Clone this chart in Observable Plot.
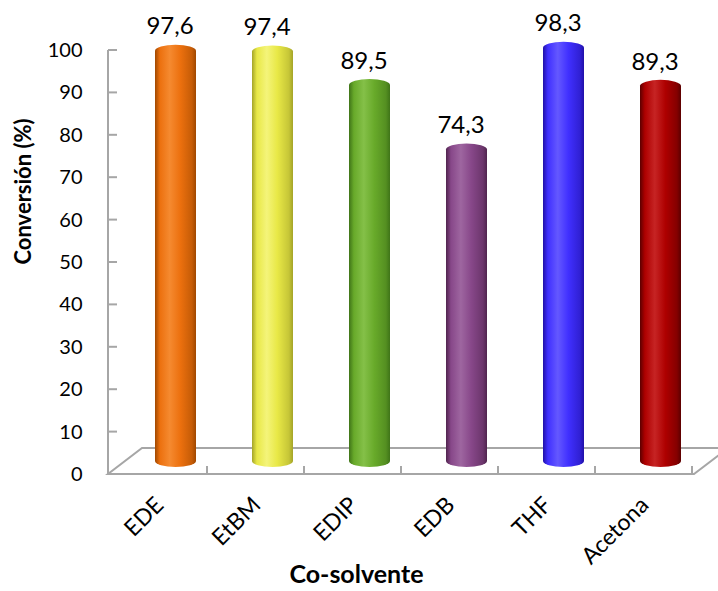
<!DOCTYPE html>
<html>
<head>
<meta charset="utf-8">
<script src="https://cdn.jsdelivr.net/npm/d3@7"></script>
<script src="https://cdn.jsdelivr.net/npm/@observablehq/plot@0.6"></script>
<style>
html, body { margin: 0; padding: 0; background: #fff; }
#chart svg { display: block; }
</style>
</head>
<body>
<div id="chart"></div>
<script>
// ---- data ----
const categories = ["EDE", "EtBM", "EDIP", "EDB", "THF", "Acetona"];
const conversion = [97.6, 97.4, 89.5, 74.3, 98.3, 89.3];
const valueLabels = ["97,6", "97,4", "89,5", "74,3", "98,3", "89,3"];
const yTicks = [0, 10, 20, 30, 40, 50, 60, 70, 80, 90, 100];
const xTitle = "Co-solvente";
const yTitle = "Conversión (%)";

// ---- styles (edge, base, light) per bar ----
const palette = [
  ["#a04800", "#ec700e", "#f58a30"],
  ["#a4a428", "#e8e846", "#f4f47a"],
  ["#3f7418", "#68aa2a", "#84c048"],
  ["#50244e", "#874789", "#9e66a0"],
  ["#2010a8", "#4030ff", "#6458ff"],
  ["#5c0000", "#ae0000", "#c62424"]
];

const data = categories.map((c, i) => ({cat: c, value: conversion[i], label: valueLabels[i], i}));

const depthX = 34, depthY = -26;
const gray = "#a6a6a6";

function chrome(index, scales, values, dimensions) {
  const {x, y} = scales;
  const {width, marginLeft, marginRight} = dimensions;
  const left = marginLeft, right = width - marginRight, y0 = y(0);
  const bw = x.bandwidth ? x.bandwidth() : (right - left) / categories.length;
  const g = d3.create("svg:g");
  const defs = g.append("defs");
  palette.forEach(([edge, base, light], i) => {
    const lg = defs.append("linearGradient").attr("id", "cyl" + i)
      .attr("x1", 0).attr("x2", 1).attr("y1", 0).attr("y2", 0);
    [[0, edge], [0.12, base], [0.36, light], [0.62, base], [0.9, d3.interpolateRgb(base, edge)(0.5)], [1, edge]]
      .forEach(([o, c]) => lg.append("stop").attr("offset", o).attr("stop-color", c));
  });
  const s = g.append("g").attr("fill", "none").attr("stroke", gray).attr("stroke-width", 2);
  // floor
  s.append("path").attr("d", `M${left},${y0}H${right}L${right + depthX},${y0 + depthY}H${left + depthX}Z`);
  // vertical axis
  s.append("line").attr("x1", left).attr("x2", left).attr("y1", y(0)).attr("y2", y(100));
  yTicks.forEach(t => s.append("line").attr("x1", left).attr("x2", left + 9).attr("y1", y(t)).attr("y2", y(t)));
  // category ticks
  categories.forEach(c => {
    const xb = x(c) + bw;
    s.append("line").attr("x1", xb).attr("x2", xb).attr("y1", y0).attr("y2", y0 - 8);
  });
  return g.node();
}

const plot = Plot.plot({
  width: 718,
  height: 591,
  marginLeft: 108,
  marginRight: 24,
  marginTop: 50,
  marginBottom: 117,
  style: {fontFamily: "Lato, 'Open Sans', sans-serif", fontSize: "20px", color: "#000", background: "#fff"},
  x: {type: "band", domain: categories, padding: 0, axis: null},
  y: {domain: [0, 100], axis: null},
  color: {type: "identity"},
  marks: [
    chrome,
    Plot.axisY({ticks: yTicks, tickSize: 0, tickPadding: 26, label: null, fontSize: 20}),
    Plot.barY(data, {
      x: "cat", y: "value",
      fill: d => `url(#cyl${d.i})`,
      insetLeft: 28, insetRight: 28, insetTop: -4.5, insetBottom: -4,
      rx: 21, ry: 6, dx: 17, dy: -11
    }),
    Plot.text(data, {x: "cat", y: "value", text: "label", dx: 11, dy: -34, fontSize: 24, fill: "#000"}),
    Plot.text(categories, {x: d => d, text: d => d, frameAnchor: "bottom", dx: 6, dy: 32, rotate: -45,
      textAnchor: "end", lineAnchor: "bottom", fontSize: 23, fill: "#000"}),
    Plot.text([xTitle], {text: d => d, frameAnchor: "bottom", dx: -45, dy: 108, fontWeight: "bold", fontSize: 25, fill: "#000"}),
    Plot.text([yTitle], {text: d => d, frameAnchor: "left", dx: -85, dy: 2, rotate: -90, fontWeight: "bold", fontSize: 22, fill: "#000"})
  ]
});
document.getElementById("chart").append(plot);
</script>
</body>
</html>
